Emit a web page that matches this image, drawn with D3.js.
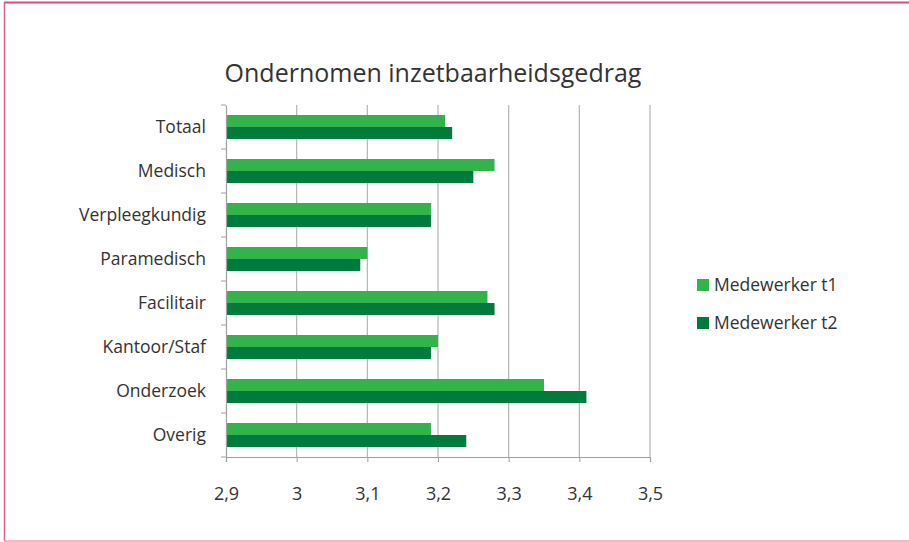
<!DOCTYPE html>
<html>
<head>
<meta charset="utf-8">
<script src="https://cdn.jsdelivr.net/npm/d3@7"></script>
<style>
  body { margin: 0; background: #fff; }
  text { font-family: "Open Sans", "Noto Sans", sans-serif; fill: #333; }
</style>
</head>
<body>
<div id="chart"></div>
<script>
const categories = ["Totaal", "Medisch", "Verpleegkundig", "Paramedisch", "Facilitair", "Kantoor/Staf", "Onderzoek", "Overig"];
const seriesNames = ["Medewerker t1", "Medewerker t2"];
const t1 = [3.21, 3.28, 3.19, 3.10, 3.27, 3.20, 3.35, 3.19];
const t2 = [3.22, 3.25, 3.19, 3.09, 3.28, 3.19, 3.41, 3.24];
const xTicks = [2.9, 3.0, 3.1, 3.2, 3.3, 3.4, 3.5];
const colors = ["#33b44a", "#007a3d"];

const width = 909, height = 542;
const plotLeft = 226, plotRight = 650, plotTop = 105, plotBottom = 457;

const svg = d3.select("#chart").append("svg")
    .attr("width", width)
    .attr("height", height);

// frame
svg.append("line").attr("x1", 4).attr("x2", width).attr("y1", 2.5).attr("y2", 2.5)
    .attr("stroke", "#e8457a").attr("stroke-width", 2);
svg.append("line").attr("x1", 4.5).attr("x2", 4.5).attr("y1", 2).attr("y2", 541)
    .attr("stroke", "#e0608c").attr("stroke-width", 1.5);
svg.append("line").attr("x1", 4).attr("x2", width).attr("y1", 541).attr("y2", 541)
    .attr("stroke", "#eba3bd").attr("stroke-width", 1.5);

const x = d3.scaleLinear().domain([2.9, 3.5]).range([plotLeft, plotRight]);
const y = d3.scaleBand().domain(categories).range([plotTop, plotBottom]);

// gridlines
svg.append("g")
    .selectAll("line")
    .data(xTicks.slice(1))
    .join("line")
    .attr("x1", d => x(d)).attr("x2", d => x(d))
    .attr("y1", plotTop).attr("y2", plotBottom)
    .attr("stroke", "#b4b4b4").attr("stroke-width", 1.2);

// bars
const inner = 12;
[t1, t2].forEach((vals, s) => {
    svg.append("g")
        .selectAll("rect")
        .data(categories)
        .join("rect")
        .attr("x", x(2.9))
        .attr("y", d => y(d) + y.bandwidth() / 2 - inner + s * inner)
        .attr("width", (d, i) => x(vals[i]) - x(2.9))
        .attr("height", inner)
        .attr("fill", colors[s]);
});

// y axis
const yAxis = svg.append("g")
    .attr("transform", `translate(${plotLeft},0)`)
    .call(d3.axisLeft(y).tickSize(0).tickPadding(20));
yAxis.select(".domain").attr("stroke", "#a0a0a0").attr("stroke-width", 1.2);
yAxis.selectAll("text").style("font-size", "17.5px").attr("fill", "#333");
yAxis.append("g")
    .selectAll("line")
    .data(categories.concat([null]))
    .join("line")
    .attr("x1", -5).attr("x2", 0)
    .attr("y1", (d, i) => plotTop + i * y.step())
    .attr("y2", (d, i) => plotTop + i * y.step())
    .attr("stroke", "#a0a0a0");

// x axis
const xAxis = svg.append("g")
    .attr("transform", `translate(0,${plotBottom})`)
    .call(d3.axisBottom(x).tickValues(xTicks).tickSize(5).tickPadding(25)
        .tickFormat(d => d3.format(".1~f")(d).replace(".", ",")));
xAxis.select(".domain").attr("stroke", "#a0a0a0").attr("stroke-width", 1.2);
xAxis.selectAll(".tick line").attr("stroke", "#a0a0a0");
xAxis.selectAll("text").style("font-size", "18px").attr("fill", "#333");

// title
svg.append("text")
    .attr("x", 433).attr("y", 82)
    .attr("text-anchor", "middle")
    .style("font-size", "25px")
    .text("Ondernomen inzetbaarheidsgedrag");

// legend
const legend = svg.append("g")
    .selectAll("g")
    .data(seriesNames)
    .join("g")
    .attr("transform", (d, i) => `translate(697,${285 + i * 38})`);
legend.append("rect")
    .attr("x", 0).attr("y", -6).attr("width", 12).attr("height", 12)
    .attr("fill", (d, i) => colors[i]);
legend.append("text")
    .attr("x", 17).attr("y", 6)
    .style("font-size", "17.5px")
    .text(d => d);
</script>
</body>
</html>
